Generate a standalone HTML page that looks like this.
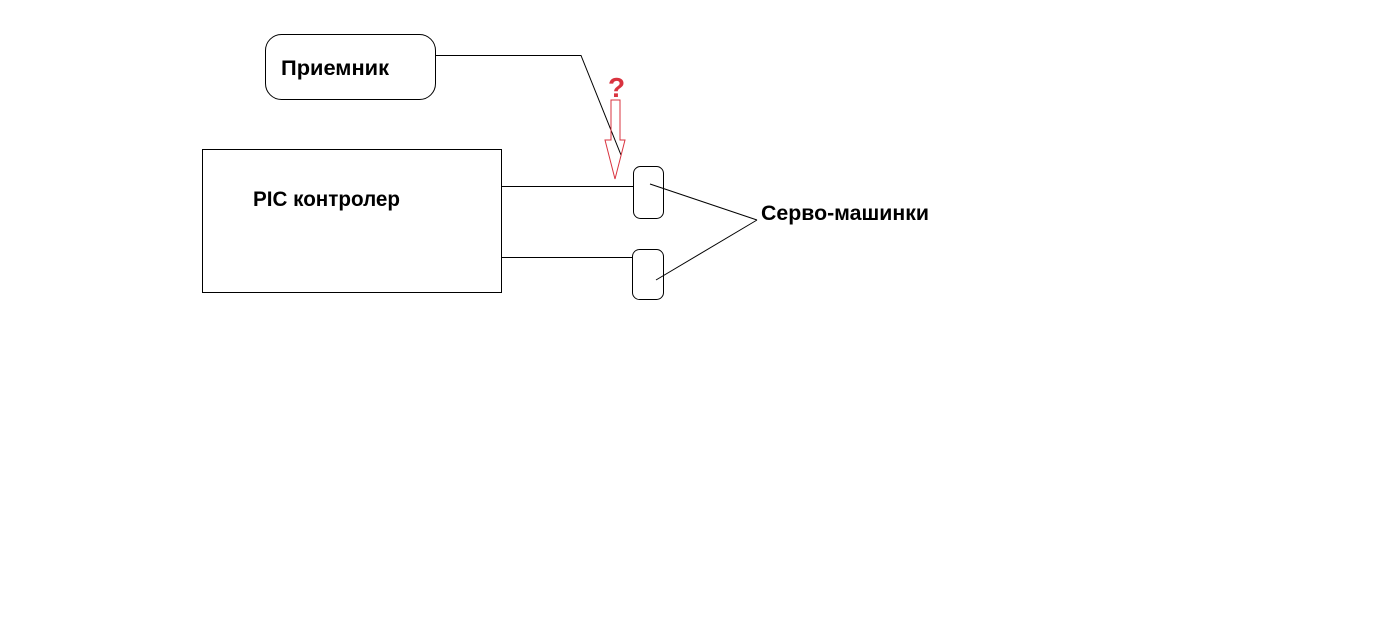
<!DOCTYPE html>
<html><head><meta charset="utf-8"><style>
html,body{margin:0;padding:0;background:#fff;}
svg{display:block;}
text{font-family:"Liberation Sans","DejaVu Sans",sans-serif;font-weight:bold;font-size:21px;fill:#000;}
</style></head><body>
<svg width="1397" height="633" viewBox="0 0 1397 633" xmlns="http://www.w3.org/2000/svg">
<g fill="none" stroke="#000" stroke-width="1">
<rect x="265.5" y="34.5" width="170" height="65" rx="16" ry="16"/>
<rect x="202.5" y="149.5" width="299" height="143"/>
<rect x="633.5" y="166.5" width="30" height="52" rx="7" ry="7"/>
<rect x="632.5" y="249.5" width="31" height="50" rx="7" ry="7"/>
<polyline points="435,55.5 581,55.5 621,155"/>
<line x1="501" y1="186.5" x2="633" y2="186.5"/>
<line x1="501" y1="257.5" x2="632" y2="257.5"/>
<line x1="650" y1="184" x2="757" y2="220"/>
<line x1="656" y1="280" x2="757" y2="220"/>
</g>
<polygon points="611,100 620,100 620,140 625,140 615,179 605,140 611,140" fill="none" stroke="#d9333f" stroke-width="1"/>
<text x="608" y="97" style="fill:#d9333f;font-size:28px;font-weight:900">?</text>
<text x="281" y="75" textLength="108" lengthAdjust="spacingAndGlyphs">Приемник</text>
<text x="253" y="206" textLength="147" lengthAdjust="spacingAndGlyphs">PIC контролер</text>
<text x="761" y="220" textLength="168" lengthAdjust="spacingAndGlyphs">Серво-машинки</text>
</svg>
</body></html>
